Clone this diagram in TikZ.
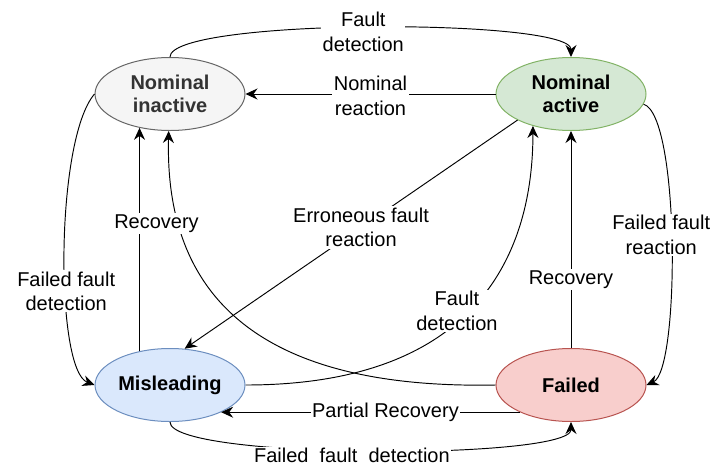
\documentclass[tikz,border=0pt]{standalone}
\usepackage{fontspec}
\setmainfont{Liberation Sans}
\usetikzlibrary{arrows.meta}
\usetikzlibrary{shapes.geometric}

\definecolor{inactfill}{HTML}{F5F5F5}
\definecolor{inactline}{HTML}{666666}
\definecolor{inacttext}{HTML}{333333}
\definecolor{actfill}{HTML}{D5E8D4}
\definecolor{actline}{HTML}{82B366}
\definecolor{mislfill}{HTML}{DAE8FC}
\definecolor{mislline}{HTML}{6C8EBF}
\definecolor{failfill}{HTML}{F8CECC}
\definecolor{failline}{HTML}{B85450}

\begin{document}
\begin{tikzpicture}[
x                       = 1pt,
y                       = -1pt,
every node/.style       = {font=\fontsize{20}{24.5}\selectfont},
statenode/.style        = {ellipse, draw, line width=1pt, minimum width=150pt, minimum height=73pt,
                           inner sep=0pt, align=center, font=\fontsize{20}{23.5}\selectfont\bfseries},
edgelabel/.style        = {fill=white, align=center, inner sep=1.5pt},
transition/.style       = {draw, line width=0.95pt, -{Stealth[length=12pt, width=11pt, inset=4pt]}}
]
\useasboundingbox (0,0) rectangle (711,469);

\node [statenode, fill=inactfill, draw=inactline, text=inacttext] (ninactive) at (170,94) {Nominal\\inactive};
\node [statenode, fill=actfill, draw=actline] (nactive) at (571,94) {Nominal\\active};
\node [statenode, fill=mislfill, draw=mislline] (misl) at (170,385) {Misleading};
\node [statenode, fill=failfill, draw=failline] (failed) at (571,385) {Failed};

% transitions
\draw [transition] (ninactive.north) .. controls (170,18) and (571,18) .. (nactive.north)
      node [edgelabel, pos=.488, yshift=-4pt] {Fault\\detection};
\draw [transition] (nactive.west) -- (ninactive.east)
      node [edgelabel, pos=.5, yshift=-2pt] {Nominal\\reaction};
\draw [transition] (ninactive.west) .. controls (55,140) and (55,370) .. (misl.west)
      node [edgelabel, pos=.605] {Failed fault\\detection};
\draw [transition] (failed.west) .. controls (240,390) and (165,280) .. (ninactive.268);
\draw [transition] (misl.132) -- (ninactive.228)
      node [edgelabel, pos=.57, xshift=17pt] {Recovery};
\draw [transition] (misl.east) .. controls (480,385) and (533,250) .. (nactive.220)
      node [edgelabel, pos=.48, xshift=-15pt, yshift=-3pt] {Fault\\detection};
\draw [transition] (nactive.206) -- (misl.68)
      node [edgelabel, pos=.47] {Erroneous fault\\reaction};
\draw [transition] (failed.north) -- (nactive.south)
      node [edgelabel, pos=.314] {Recovery};
\draw [transition] (nactive.-8) .. controls (680,115) and (680,370) .. (failed.east)
      node [edgelabel, pos=.48, xshift=-10pt] {Failed fault\\reaction};
\draw [transition] (failed.208) -- (misl.-28)
      node [edgelabel, pos=.45] {Partial Recovery};
\draw [transition] (misl.south) .. controls (170,460) and (571,460) .. (failed.south)
      node [edgelabel, pos=.469, yshift=-5pt] {Failed~~fault~~detection};
\end{tikzpicture}
\end{document}
